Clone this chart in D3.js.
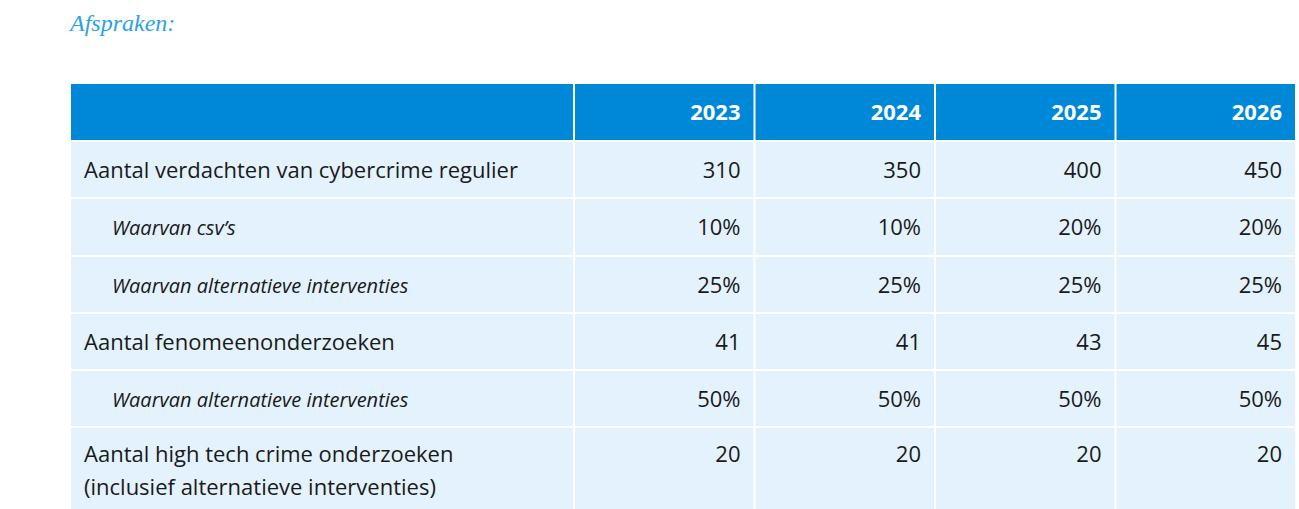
<!DOCTYPE html>
<html><head><meta charset="utf-8">
<script src="https://cdn.jsdelivr.net/npm/d3@7"></script>
<style>
html,body{margin:0;padding:0;background:#fff;}
svg{display:block;}
</style></head>
<body>
<svg id="chart" width="1299" height="509"></svg>
<script>
const title = "Afspraken:";
const years = ["2023", "2024", "2025", "2026"];
const rowLabels = [
  ["Aantal verdachten van cybercrime regulier"],
  ["Waarvan csv’s"],
  ["Waarvan alternatieve interventies"],
  ["Aantal fenomeenonderzoeken"],
  ["Waarvan alternatieve interventies"],
  ["Aantal high tech crime onderzoeken", "(inclusief alternatieve interventies)"]
];
const subRow = [false, true, true, false, true, false];
const row1 = ["310", "350", "400", "450"];
const row2 = ["10%", "10%", "20%", "20%"];
const row3 = ["25%", "25%", "25%", "25%"];
const row4 = ["41", "41", "43", "45"];
const row5 = ["50%", "50%", "50%", "50%"];
const row6 = ["20", "20", "20", "20"];
const rowValues = [row1, row2, row3, row4, row5, row6];

const svg = d3.select("#chart");
const left = 71, right = 1295, labelRight = 573;
const headerTop = 84, headerH = 56;
const gap = 2;
const rowHeights = [55, 56, 55, 55, 55, 83];

const x = d3.scaleBand().domain(years).range([labelRight, right]).paddingInner(0);

const rowY = [];
let yy = headerTop + headerH + gap;
rowHeights.forEach(h => { rowY.push(yy); yy += h + gap; });

const blue = "#0088d8";
const light = "#e3f2fc";
const font = "'Open Sans', Lato, sans-serif";

svg.append("text")
  .attr("x", 70).attr("y", 31)
  .attr("font-family", "'Liberation Serif', serif")
  .attr("font-style", "italic")
  .attr("font-size", 24)
  .attr("fill", "#2ba2e4")
  .text(title);

const hdr = svg.append("g");
hdr.append("rect").attr("x", left).attr("y", headerTop)
  .attr("width", labelRight - left).attr("height", headerH).attr("fill", blue);
hdr.selectAll("rect.yr").data(years).join("rect").attr("class", "yr")
  .attr("x", d => x(d) + gap).attr("y", headerTop)
  .attr("width", d => x.bandwidth() - gap).attr("height", headerH).attr("fill", blue);
hdr.selectAll("text").data(years).join("text")
  .attr("x", d => x(d) + x.bandwidth() - 13)
  .attr("y", headerTop + headerH / 2 + 8)
  .attr("text-anchor", "end")
  .attr("font-family", font).attr("font-weight", "bold")
  .attr("font-size", 22).attr("fill", "#fff")
  .text(d => d);

const rows = svg.selectAll("g.row").data(rowLabels).join("g").attr("class", "row")
  .attr("transform", (d, i) => `translate(0,${rowY[i]})`);

rows.append("rect").attr("x", left).attr("y", 0)
  .attr("width", labelRight - left).attr("height", (d, i) => rowHeights[i]).attr("fill", light);

rows.each(function (d, i) {
  const g = d3.select(this);
  const sub = subRow[i];
  const multi = d.length > 1;
  const baseY = multi ? 34 : rowHeights[i] / 2 + 8;
  g.selectAll("text.lbl").data(d).join("text").attr("class", "lbl")
    .attr("x", sub ? 112 : 84)
    .attr("y", (t, k) => baseY + k * 33)
    .attr("font-family", font)
    .attr("font-style", sub ? "italic" : "normal")
    .attr("font-size", sub ? 20 : 22)
    .attr("fill", "#1a1a1a")
    .text(t => t);
  g.selectAll("rect.cell").data(years).join("rect").attr("class", "cell")
    .attr("x", yr => x(yr) + gap).attr("y", 0)
    .attr("width", x.bandwidth() - gap).attr("height", rowHeights[i]).attr("fill", light);
  g.selectAll("text.val").data(rowValues[i]).join("text").attr("class", "val")
    .attr("x", (v, k) => x(years[k]) + x.bandwidth() - 13)
    .attr("y", baseY)
    .attr("text-anchor", "end")
    .attr("font-family", font)
    .attr("font-size", 22)
    .attr("fill", "#1a1a1a")
    .text(v => v);
});
</script>
</body></html>
